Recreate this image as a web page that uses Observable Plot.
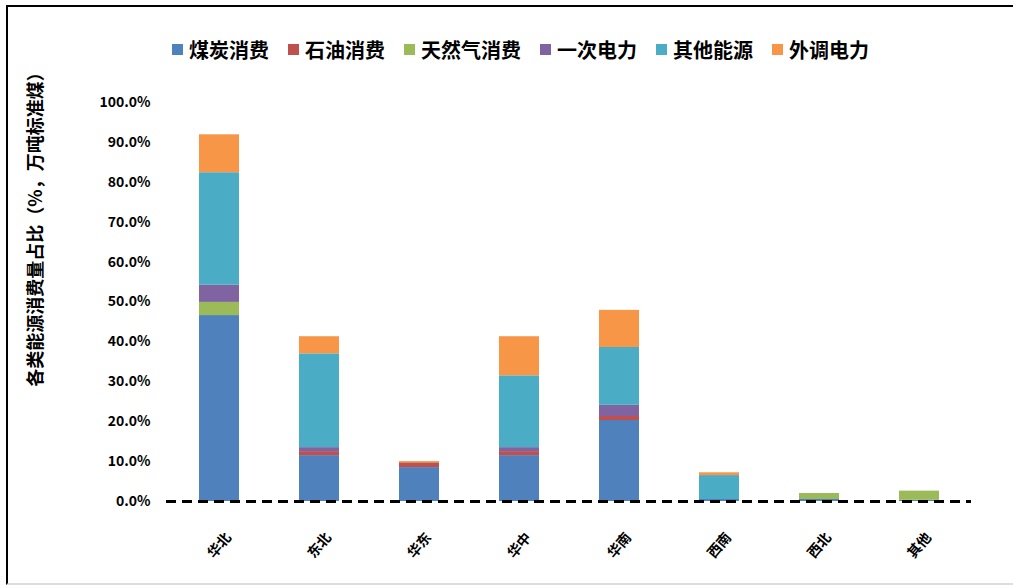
<!DOCTYPE html>
<html><head><meta charset="utf-8">
<script src="https://cdn.jsdelivr.net/npm/d3@7"></script>
<script src="https://cdn.jsdelivr.net/npm/@observablehq/plot@0.6"></script>
<style>
body{margin:0;background:#fff;font-family:"Noto Sans CJK SC","Noto Sans",sans-serif;}
#wrap{position:relative;width:1013px;height:585px;overflow:hidden;background:#fff;}
#frame{position:absolute;left:6px;top:5px;width:1020px;height:576px;border-top:2px solid #000;border-left:2px solid #000;border-bottom:2px solid #ddd;pointer-events:none;}
#legend{position:absolute;top:35px;left:172px;display:flex;align-items:center;font-size:20px;font-weight:bold;color:#000;white-space:nowrap;}
#legend .item{display:flex;align-items:center;margin-right:19px;}
#legend .sw{width:11px;height:11px;margin-right:6px;}
#chart{position:absolute;left:0;top:0;}
</style></head>
<body>
<div id="wrap"><div id="chart"></div><div id="legend"></div><div id="frame"></div></div>
<script>
const categories = ["华北","东北","华东","华中","华南","西南","西北","其他"];
const seriesNames = ["煤炭消费","石油消费","天然气消费","一次电力","其他能源","外调电力"];
const seriesColors = ["#4F81BD","#C0504D","#9BBB59","#8064A2","#4BACC6","#F79646"];
const coal    = [46.6, 11.5, 8.5, 11.5, 20.3, 0.5, 0.5, 0.3];
const oil     = [0,    1.0,  1.2, 1.0,  1.0,  0,   0,   0];
const gas     = [3.3,  0,    0,   0,    0,    0,   1.5, 2.3];
const power   = [4.3,  1.0,  0,   1.0,  2.8,  0,   0,   0];
const other   = [28.2, 23.5, 0,   18.0, 14.5, 6.0, 0,   0];
const imported= [9.5,  4.3,  0.3, 9.8,  9.3,  0.7, 0,   0];
const yTicks = [0,10,20,30,40,50,60,70,80,90,100];
const yLabel = "各类能源消费量占比（%，万吨标准煤）";

const seriesValues = [coal, oil, gas, power, other, imported];
const data = [];
seriesNames.forEach((s, i) => categories.forEach((c, j) => data.push({cat: c, series: s, value: seriesValues[i][j]})));

const chart = Plot.plot({
  width: 1013, height: 585,
  marginTop: 102, marginBottom: 84, marginLeft: 166, marginRight: 42,
  style: {fontFamily: '"Noto Sans CJK SC","Noto Sans",sans-serif', background: "transparent"},
  x: {domain: categories, paddingInner: 0.6, paddingOuter: 0.3},
  y: {domain: [0, 100]},
  color: {domain: seriesNames, range: seriesColors},
  marks: [
    Plot.barY(data, {x: "cat", y: "value", fill: "series", order: seriesNames}),
    Plot.ruleY([0], {stroke: "#000", strokeWidth: 3, strokeDasharray: "10,6"}),
    Plot.axisY({ticks: yTicks, tickFormat: d => d.toFixed(1) + "%", tickSize: 0, tickPadding: 16, fontSize: 14, fontWeight: "bold", label: null}),
    Plot.axisX({tickSize: 0, tickRotate: -50, textAnchor: "middle", tickPadding: 44, fontSize: 14, fontWeight: "bold", label: null}),
    Plot.text([yLabel], {frameAnchor: "left", textAnchor: "middle", rotate: -90, dx: -130, dy: -77, fontSize: 18, fontWeight: "bold", fill: "#000"})
  ]
});
document.getElementById("chart").appendChild(chart);

const lg = document.getElementById("legend");
seriesNames.forEach((s, i) => {
  const it = document.createElement("div"); it.className = "item";
  const sw = document.createElement("div"); sw.className = "sw"; sw.style.background = seriesColors[i];
  const tx = document.createElement("span"); tx.textContent = s;
  it.appendChild(sw); it.appendChild(tx); lg.appendChild(it);
});
</script>
</body></html>
